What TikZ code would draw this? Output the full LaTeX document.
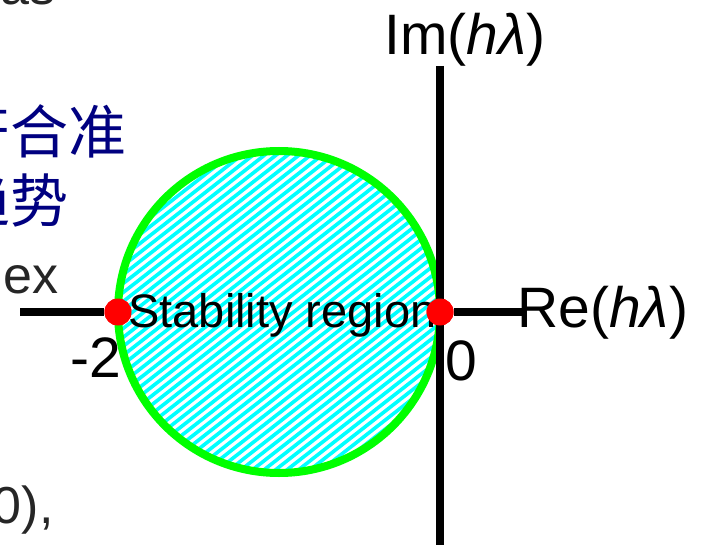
\documentclass[tikz,border=0pt]{standalone}
\usepackage{fontspec}
\setmainfont{Liberation Sans}
\newfontfamily\cjk{Noto Sans CJK SC}
\usetikzlibrary{positioning}
\definecolor{regiongreen}{rgb}{0, 1, 0}
\definecolor{hatchcyan}{rgb}{0, 1, 1}
\definecolor{slidenavy}{rgb}{0, 0, 0.5}
\tikzset{
  axis/.style={line width=4.3pt},
  dot/.style={circle, fill=red, inner sep=0pt, minimum size=13.5pt},
  lbl/.style={inner sep=0pt, font=\fontsize{28.5}{30}\selectfont},
  frag/.style={inner sep=0pt, text=black!85, font=\fontsize{26}{28}\selectfont},
  cnfrag/.style={inner sep=0pt, anchor=east, text=slidenavy, font=\cjk\fontsize{29}{31}\selectfont},
}

\begin{document}
\begin{tikzpicture}[x=0.5pt,y=-0.5pt]
    \useasboundingbox (0,0) rectangle (706,545);

    % cut-off slide text on the left
    \begin{scope}
        \clip (0,0) rectangle (706,545);
        \node[frag, anchor=base east] (as) at (56,5) {as};
        \node[cnfrag] (cn1) at (127,131) {符合准};
        \node[cnfrag] (cn2) at (69,200) {趋势};
        \node[frag, anchor=base east] (ex) at (59,293) {ex};
        \node[frag, anchor=base east] (tail) at (54,523) {0),};
    \end{scope}

    \coordinate (c) at (279,312);
    \coordinate (west) at (20,312);
    \coordinate (east) at (525,312);
    \coordinate (top) at (440,66);
    \coordinate (bottom) at (440,545);

    \node[dot] (m2pt) at (118,312) {};
    \node[dot] (0pt) at (440,312) {};

    % stability region
    \begin{scope}
        \clip (c) circle[radius=161];
        \foreach \k [evaluate=\k as \x using -250+\k*11.5] in {0,...,80}
            \draw[hatchcyan, line width=1.8pt] (\x,512) -- ++(520,-406);
    \end{scope}
    \draw[regiongreen, line width=4pt] (c) circle[radius=161];

    \draw[axis] (west) -- (m2pt);
    \draw[axis] (0pt) -- (east);
    \draw[axis] (top) -- (bottom);

    \node[lbl, anchor=base west] (Im) at (384,55) {Im(\textit{hλ})};
    \node[lbl, anchor=base west] (Re) at (517,327) {Re(\textit{hλ})};
    \node[lbl, anchor=base east] (m2) at (122,377) {-2};
    \node[lbl, anchor=base west] (0) at (445,380) {0};
    \node[inner sep=0pt, anchor=base west, font=\fontsize{23.5}{25}\selectfont] (stab) at (128,327) {Stability region};

    \node[dot] at (m2pt) {};
    \node[dot] at (0pt) {};
\end{tikzpicture}
\end{document}
